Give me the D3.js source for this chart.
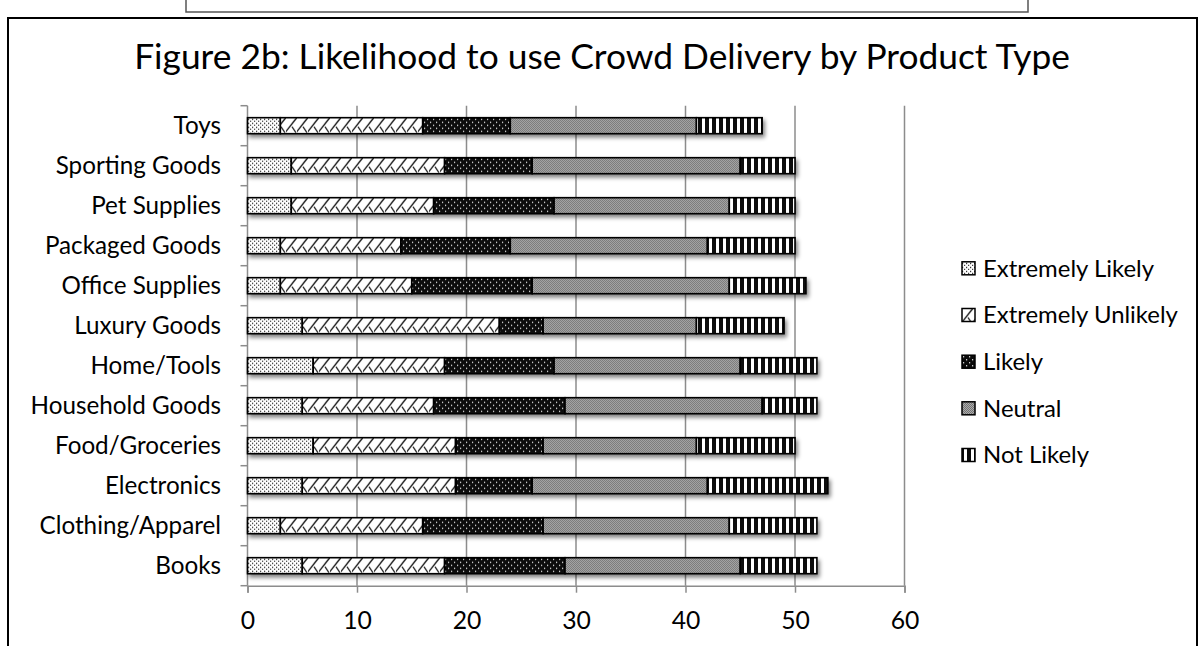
<!DOCTYPE html>
<html>
<head>
<meta charset="utf-8">
<script src="https://cdn.jsdelivr.net/npm/d3@7"></script>
<style>
  html, body { margin: 0; padding: 0; background: #fff; }
  svg { display: block; }
  text { font-family: Lato, "Open Sans", sans-serif; fill: #000; }
</style>
</head>
<body>
<svg id="chart" width="1203" height="646"></svg>
<script>
// Product categories, listed bottom-to-top as in the chart
const categories = ["Books", "Clothing/Apparel", "Electronics", "Food/Groceries",
  "Household Goods", "Home/Tools", "Luxury Goods", "Office Supplies",
  "Packaged Goods", "Pet Supplies", "Sporting Goods", "Toys"];

// Responses per category (same order as categories)
const extremelyLikely   = [5, 3, 5, 6, 5, 6, 5, 3, 3, 4, 4, 3];
const extremelyUnlikely = [13, 13, 14, 13, 12, 12, 18, 12, 11, 13, 14, 13];
const likely            = [11, 11, 7, 8, 12, 10, 4, 11, 10, 11, 8, 8];
const neutral           = [16, 17, 16, 14, 18, 17, 14, 18, 18, 16, 19, 17];
const notLikely         = [7, 8, 11, 9, 5, 7, 8, 7, 8, 6, 5, 6];

const seriesNames = ["Extremely Likely", "Extremely Unlikely", "Likely", "Neutral", "Not Likely"];
const seriesValues = [extremelyLikely, extremelyUnlikely, likely, neutral, notLikely];
const xTicks = [0, 10, 20, 30, 40, 50, 60];
const titleText = "Figure 2b: Likelihood to use Crowd Delivery by Product Type";

const svg = d3.select("#chart");
const defs = svg.append("defs");

// ---- pattern fills ----
function pattern(id, w, h, draw) {
  const p = defs.append("pattern").attr("id", id)
    .attr("patternUnits", "userSpaceOnUse").attr("width", w).attr("height", h);
  draw(p);
}
// sparse black dots on white
pattern("pEL", 4, 4, p => {
  p.append("rect").attr("width", 4).attr("height", 4).attr("fill", "#fff");
  p.append("rect").attr("x", 0).attr("y", 1).attr("width", 1.2).attr("height", 1.2).attr("fill", "#111");
  p.append("rect").attr("x", 2).attr("y", 3).attr("width", 1.2).attr("height", 1.2).attr("fill", "#111");
});
// zig-zag diagonal hatch on white
pattern("pEU", 11, 16, p => {
  p.append("rect").attr("width", 11).attr("height", 16).attr("fill", "#fff");
  p.append("path").attr("d", "M-1,15 L10,1 M6,9 L10,15 M10,1 L12,-1")
    .attr("stroke", "#111").attr("stroke-width", 1.3).attr("fill", "none");
});
// black with white dots
pattern("pL", 6, 6, p => {
  p.append("rect").attr("width", 6).attr("height", 6).attr("fill", "#0a0a0a");
  p.append("rect").attr("x", 1).attr("y", 1).attr("width", 1.2).attr("height", 1.2).attr("fill", "#fff");
  p.append("rect").attr("x", 4).attr("y", 4).attr("width", 1.2).attr("height", 1.2).attr("fill", "#fff");
});
// fine checker (grey)
pattern("pN", 2, 2, p => {
  p.append("rect").attr("width", 2).attr("height", 2).attr("fill", "#c0c0c0");
  p.append("rect").attr("width", 1).attr("height", 1).attr("fill", "#606060");
  p.append("rect").attr("x", 1).attr("y", 1).attr("width", 1).attr("height", 1).attr("fill", "#606060");
});
// vertical stripes
pattern("pNL", 7, 16, p => {
  p.append("rect").attr("width", 7).attr("height", 16).attr("fill", "#0a0a0a");
  p.append("rect").attr("x", 2).attr("width", 3).attr("height", 16).attr("fill", "#fff");
});
const fills = ["url(#pEL)", "url(#pEU)", "url(#pL)", "url(#pN)", "url(#pNL)"];

// soft drop shadow under the bars
const sh = defs.append("filter").attr("id", "shadow")
  .attr("x", "-5%").attr("y", "-40%").attr("width", "115%").attr("height", "200%");
sh.append("feGaussianBlur").attr("in", "SourceAlpha").attr("stdDeviation", 2.2).attr("result", "b");
sh.append("feOffset").attr("in", "b").attr("dx", 2).attr("dy", 3).attr("result", "o");
sh.append("feComponentTransfer").attr("in", "o").attr("result", "oa")
  .append("feFuncA").attr("type", "linear").attr("slope", 0.5);
const m = sh.append("feMerge");
m.append("feMergeNode").attr("in", "oa");
m.append("feMergeNode").attr("in", "SourceGraphic");

// ---- frames ----
svg.append("rect").attr("x", 186).attr("y", -4).attr("width", 842).attr("height", 16)
  .attr("fill", "none").attr("stroke", "#555").attr("stroke-width", 1.5);
svg.append("rect").attr("x", 8).attr("y", 18).attr("width", 1189).attr("height", 640)
  .attr("fill", "none").attr("stroke", "#000").attr("stroke-width", 2);

// ---- scales ----
const plotTop = 105.7, plotBottom = 585.7;
const x = d3.scaleLinear().domain([0, 60]).range([247.5, 904.5]);
const y = d3.scaleBand().domain(categories.slice().reverse())
  .range([plotTop, plotBottom]).paddingInner(0.6).paddingOuter(0.3);
const step = y.step();

// fit a text selection's font size so a reference string spans a given width
function fitSize(sel, targetWidth, baseSize) {
  const node = sel.node();
  const w = node.getComputedTextLength();
  return baseSize * targetWidth / w;
}

// ---- title ----
const title = svg.append("text").attr("x", 602).attr("y", 69)
  .attr("text-anchor", "middle").style("font-size", "30px").text(titleText);
title.style("font-size", fitSize(title, 936, 30) + "px");

// ---- gridlines ----
const grid = svg.append("g");
grid.selectAll("line").data(xTicks.filter(t => t > 0)).join("line")
  .attr("x1", d => x(d)).attr("x2", d => x(d))
  .attr("y1", plotTop).attr("y2", plotBottom)
  .attr("stroke", "#8c8c8c").attr("stroke-width", 1.5);

// ---- x axis ----
const xAxis = svg.append("g").attr("transform", `translate(0,${plotBottom})`)
  .call(d3.axisBottom(x).tickValues(xTicks).tickSize(7).tickPadding(14).tickFormat(d3.format("d")));
xAxis.select(".domain").attr("stroke", "#8c8c8c").attr("stroke-width", 1.5);
xAxis.selectAll(".tick line").attr("stroke", "#8c8c8c").attr("stroke-width", 1.5);
xAxis.selectAll(".tick text").style("font-size", "21px").style("font-family", "Lato, sans-serif")
  .attr("fill", "#000").attr("dy", "0.71em").attr("y", 26);
xAxis.attr("font-family", null).attr("font-size", null);

// ---- y axis ----
const yAxisG = svg.append("g");
yAxisG.append("line").attr("x1", x(0)).attr("x2", x(0)).attr("y1", plotTop).attr("y2", plotBottom)
  .attr("stroke", "#8c8c8c").attr("stroke-width", 1.5);
const boundaries = d3.range(categories.length + 1).map(i => plotTop + i * step);
yAxisG.selectAll("line.tk").data(boundaries).join("line").attr("class", "tk")
  .attr("x1", x(0) - 7).attr("x2", x(0)).attr("y1", d => d).attr("y2", d => d)
  .attr("stroke", "#8c8c8c").attr("stroke-width", 1.5);

const catLabels = svg.append("g").selectAll("text").data(categories).join("text")
  .attr("x", 221).attr("y", d => y(d) + y.bandwidth() / 2)
  .attr("dy", "0.35em").attr("text-anchor", "end").style("font-size", "21px").text(d => d);
const refLabel = catLabels.filter(d => d === "Household Goods");
const catSize = fitSize(refLabel, 190.5, 21);
catLabels.style("font-size", catSize + "px");
xAxis.selectAll(".tick text").style("font-size", (catSize + 0.5) + "px");

// ---- stacked bars ----
const stackData = categories.map((c, i) => {
  const row = { category: c };
  seriesNames.forEach((s, j) => row[s] = seriesValues[j][i]);
  return row;
});
const stacked = d3.stack().keys(seriesNames)(stackData);

const rows = svg.append("g").selectAll("g.row").data(categories).join("g")
  .attr("class", "row")
  .attr("transform", d => `translate(0,${y(d)})`)
  .attr("filter", "url(#shadow)");

rows.each(function(cat, i) {
  const g = d3.select(this);
  stacked.forEach((layer, j) => {
    const seg = layer[i];
    g.append("rect")
      .attr("x", x(seg[0])).attr("y", 0)
      .attr("width", x(seg[1]) - x(seg[0])).attr("height", y.bandwidth())
      .attr("fill", fills[j]).attr("stroke", "#000").attr("stroke-width", 1.6);
  });
});

// ---- legend ----
const legend = svg.append("g");
const legendY = [268.3, 315, 361.7, 408.3, 455];
const items = legend.selectAll("g").data(seriesNames).join("g")
  .attr("transform", (d, i) => `translate(962,${legendY[i] - 6.5})`);
items.append("rect").attr("width", 13).attr("height", 13)
  .attr("fill", (d, i) => fills[i]).attr("stroke", "#000").attr("stroke-width", 1.5);
const legTexts = items.append("text").attr("x", 21).attr("y", 6.5).attr("dy", "0.35em")
  .style("font-size", "21px").text(d => d);
const legSize = fitSize(legTexts.filter(d => d === "Extremely Unlikely"), 195, 21);
legTexts.style("font-size", legSize + "px");
</script>
</body>
</html>
